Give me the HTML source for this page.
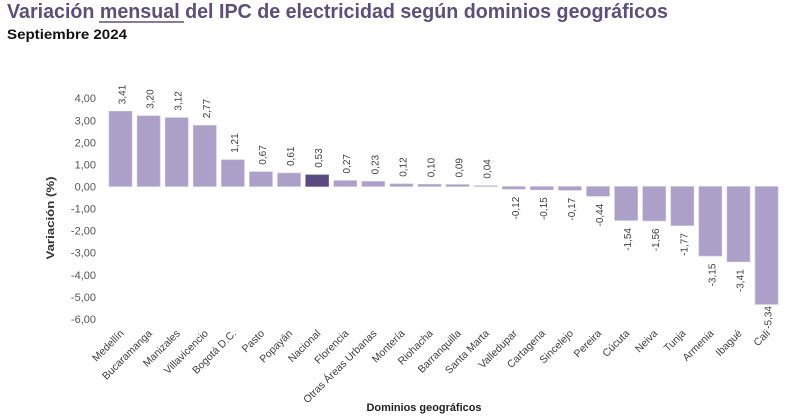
<!DOCTYPE html>
<html>
<head>
<meta charset="utf-8">
<style>
html,body{margin:0;padding:0;background:#ffffff;}
svg{display:block;}
text{font-family:"Liberation Sans",Arial,sans-serif;}
</style>
</head>
<body>
<svg width="804" height="418" viewBox="0 0 804 418" xmlns="http://www.w3.org/2000/svg">
<rect width="804" height="418" fill="#ffffff"/>
<!-- Title -->
<text x="7" y="18" font-size="20" font-weight="bold" fill="#5c5079" textLength="661" lengthAdjust="spacingAndGlyphs">Variación mensual del IPC de electricidad según dominios geográficos</text>
<line x1="99" y1="22" x2="184" y2="22" stroke="#5c5079" stroke-width="1.6"/>
<text x="7" y="39" font-size="14" font-weight="bold" fill="#111111" textLength="120" lengthAdjust="spacingAndGlyphs">Septiembre 2024</text>

<!-- Y axis labels -->
<g font-size="11" fill="#555555" text-anchor="end">
<text x="96" y="102.2">4,00</text>
<text x="96" y="124.3">3,00</text>
<text x="96" y="146.3">2,00</text>
<text x="96" y="168.4">1,00</text>
<text x="96" y="190.5">0,00</text>
<text x="96" y="212.6">-1,00</text>
<text x="96" y="234.7">-2,00</text>
<text x="96" y="256.7">-3,00</text>
<text x="96" y="278.8">-4,00</text>
<text x="96" y="300.9">-5,00</text>
<text x="96" y="323.0">-6,00</text>
</g>
<text transform="translate(54,218) rotate(-90)" text-anchor="middle" font-size="11" font-weight="bold" fill="#333333" textLength="83" lengthAdjust="spacingAndGlyphs">Variación (%)</text>

<!-- Bars -->
<g fill="#ada0c8" stroke="#c9c0dc" stroke-width="0.6">
<rect x="109" y="111.21" width="23" height="75.29"/>
<rect x="137.09" y="115.84" width="23" height="70.66"/>
<rect x="165.18" y="117.61" width="23" height="68.89"/>
<rect x="193.27" y="125.34" width="23" height="61.16"/>
<rect x="221.36" y="159.78" width="23" height="26.72"/>
<rect x="249.45" y="171.71" width="23" height="14.79"/>
<rect x="277.54" y="173.03" width="23" height="13.47"/>
<rect x="333.72" y="180.54" width="23" height="5.96"/>
<rect x="361.81" y="181.42" width="23" height="5.08"/>
<rect x="389.9" y="183.85" width="23" height="2.65"/>
<rect x="417.99" y="184.29" width="23" height="2.21"/>
<rect x="446.08" y="184.51" width="23" height="1.99"/>
<rect x="474.17" y="185.62" width="23" height="0.88"/>
<rect x="502.26" y="186.5" width="23" height="2.65"/>
<rect x="530.35" y="186.5" width="23" height="3.31"/>
<rect x="558.44" y="186.5" width="23" height="3.75"/>
<rect x="586.53" y="186.5" width="23" height="9.72"/>
<rect x="614.62" y="186.5" width="23" height="34.00"/>
<rect x="642.71" y="186.5" width="23" height="34.44"/>
<rect x="670.8" y="186.5" width="23" height="39.08"/>
<rect x="698.89" y="186.5" width="23" height="69.55"/>
<rect x="726.98" y="186.5" width="23" height="75.29"/>
<rect x="755.07" y="186.5" width="23" height="117.91"/>
</g>
<rect x="305.63" y="174.80" width="23" height="11.70" fill="#5b4a80" stroke="#7d6f9c" stroke-width="0.6"/>

<!-- Data labels -->
<g font-size="10" fill="#404040">
<text transform="translate(125.5,104.2) rotate(-90)">3,41</text>
<text transform="translate(153.6,108.8) rotate(-90)">3,20</text>
<text transform="translate(181.7,110.6) rotate(-90)">3,12</text>
<text transform="translate(209.8,118.3) rotate(-90)">2,77</text>
<text transform="translate(237.9,152.8) rotate(-90)">1,21</text>
<text transform="translate(266.0,164.7) rotate(-90)">0,67</text>
<text transform="translate(294.0,166.0) rotate(-90)">0,61</text>
<text transform="translate(322.1,167.8) rotate(-90)">0,53</text>
<text transform="translate(350.2,173.5) rotate(-90)">0,27</text>
<text transform="translate(378.3,174.4) rotate(-90)">0,23</text>
<text transform="translate(406.4,176.8) rotate(-90)">0,12</text>
<text transform="translate(434.5,177.3) rotate(-90)">0,10</text>
<text transform="translate(462.6,177.5) rotate(-90)">0,09</text>
<text transform="translate(490.7,178.6) rotate(-90)">0,04</text>
</g>
<g font-size="10" fill="#404040" text-anchor="end">
<text transform="translate(518.8,196.7) rotate(-90)">-0,12</text>
<text transform="translate(546.9,197.3) rotate(-90)">-0,15</text>
<text transform="translate(574.9,197.8) rotate(-90)">-0,17</text>
<text transform="translate(603.0,203.7) rotate(-90)">-0,44</text>
<text transform="translate(631.1,228.0) rotate(-90)">-1,54</text>
<text transform="translate(659.2,228.4) rotate(-90)">-1,56</text>
<text transform="translate(687.3,233.1) rotate(-90)">-1,77</text>
<text transform="translate(715.4,263.6) rotate(-90)">-3,15</text>
<text transform="translate(743.5,269.3) rotate(-90)">-3,41</text>
<text transform="translate(771.6,306.0) rotate(-90)">-5,34</text>
</g>

<!-- X axis category labels -->
<g font-size="10.5" fill="#404040" text-anchor="end">
<text transform="translate(124.5,334) rotate(-45)">Medellín</text>
<text transform="translate(152.6,334) rotate(-45)">Bucaramanga</text>
<text transform="translate(180.7,334) rotate(-45)">Manizales</text>
<text transform="translate(208.8,334) rotate(-45)">Villavicencio</text>
<text transform="translate(236.9,334) rotate(-45)">Bogotá D.C.</text>
<text transform="translate(265.0,334) rotate(-45)">Pasto</text>
<text transform="translate(293.0,334) rotate(-45)">Popayán</text>
<text transform="translate(321.1,334) rotate(-45)">Nacional</text>
<text transform="translate(349.2,334) rotate(-45)">Florencia</text>
<text transform="translate(377.3,334) rotate(-45)">Otras Áreas Urbanas</text>
<text transform="translate(405.4,334) rotate(-45)">Montería</text>
<text transform="translate(433.5,334) rotate(-45)">Riohacha</text>
<text transform="translate(461.6,334) rotate(-45)">Barranquilla</text>
<text transform="translate(489.7,334) rotate(-45)">Santa Marta</text>
<text transform="translate(517.8,334) rotate(-45)">Valledupar</text>
<text transform="translate(545.9,334) rotate(-45)">Cartagena</text>
<text transform="translate(573.9,334) rotate(-45)">Sincelejo</text>
<text transform="translate(602.0,334) rotate(-45)">Pereira</text>
<text transform="translate(630.1,334) rotate(-45)">Cúcuta</text>
<text transform="translate(658.2,334) rotate(-45)">Neiva</text>
<text transform="translate(686.3,334) rotate(-45)">Tunja</text>
<text transform="translate(714.4,334) rotate(-45)">Armenia</text>
<text transform="translate(742.5,334) rotate(-45)">Ibagué</text>
<text transform="translate(770.6,334) rotate(-45)">Cali</text>
</g>

<text x="424" y="411" text-anchor="middle" font-size="11" font-weight="bold" fill="#222222" textLength="115" lengthAdjust="spacingAndGlyphs">Dominios geográficos</text>
</svg>
</body>
</html>
